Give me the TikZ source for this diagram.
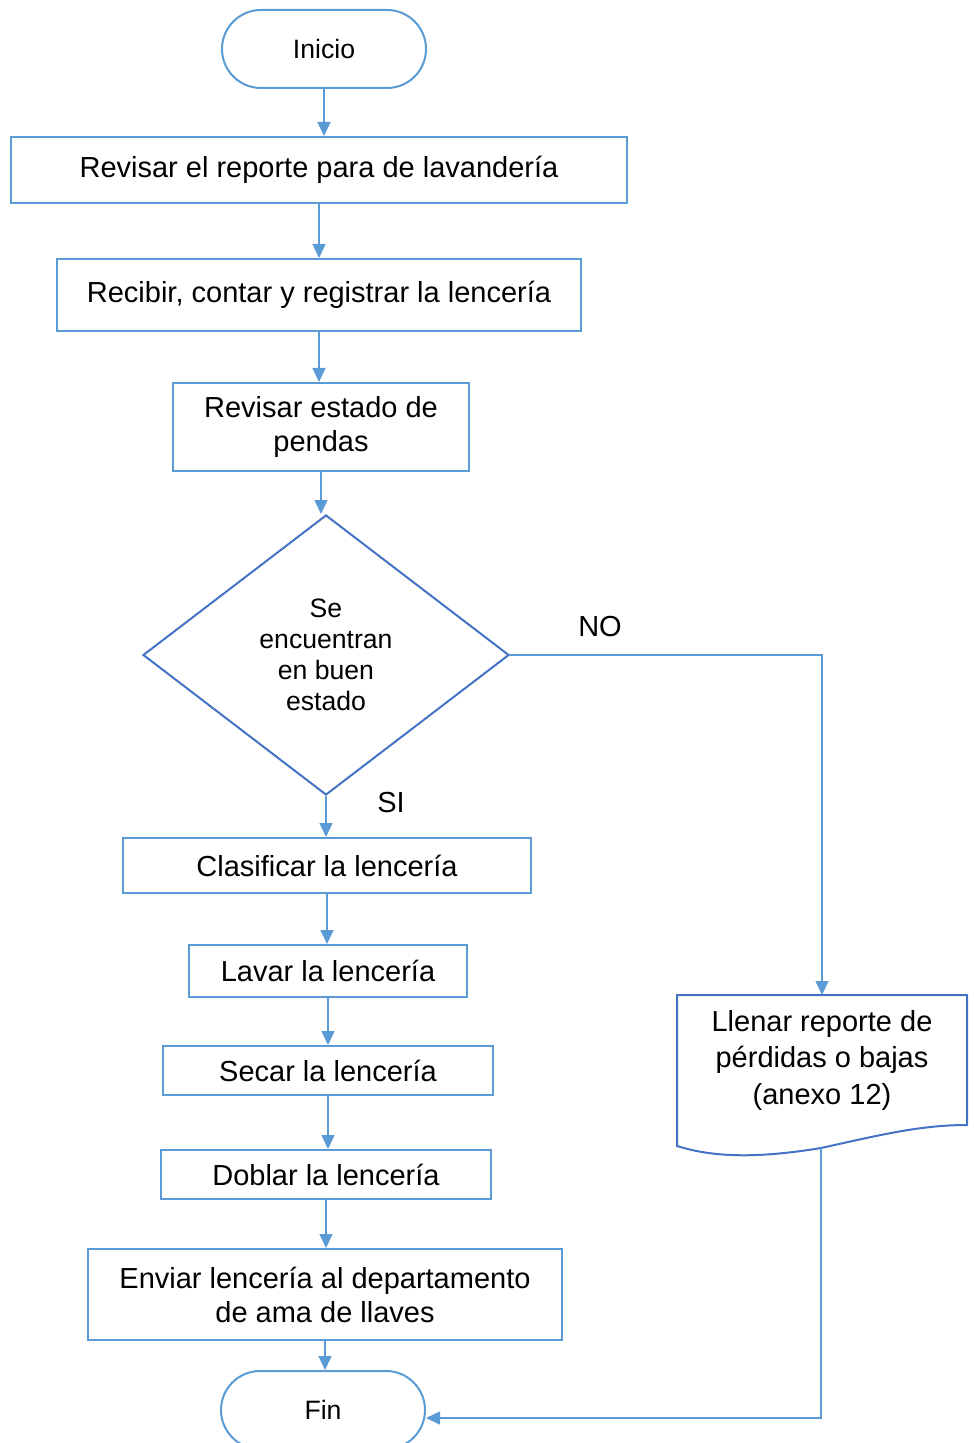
\documentclass[tikz,border=0pt]{standalone}
\usepackage{fontspec}
\setmainfont{Liberation Sans}
\usetikzlibrary{arrows.meta,shapes.geometric,shapes.misc}
\definecolor{azul}{HTML}{5B9BD5}
\definecolor{azulosc}{HTML}{4472C4}

\begin{document}
\begin{tikzpicture}[x=0.5pt, y=-0.5pt,
  texto/.style={font=\fontsize{14.5}{17}\selectfont},
  caja/.style={draw=azul, line width=1pt, align=center, inner sep=0pt, texto},
  terminal/.style={caja, rounded rectangle, minimum width=102pt, minimum height=39pt,
                   font=\fontsize{13.3}{16}\selectfont},
  decision/.style={diamond, draw=azulosc, line width=1pt, align=center, inner sep=0pt,
                   minimum width=183pt, minimum height=140pt, font=\fontsize{13.3}{15.5}\selectfont},
  documento/.style={align=center, inner sep=0pt, minimum width=145pt, minimum height=65pt,
                    anchor=north, font=\fontsize{14.5}{18.2}\selectfont},
  flecha/.style={-{Triangle[length=7pt, width=6.5pt]}, azul, line width=0.75pt},
  linea/.style={flecha, line width=0.6pt}]
  \useasboundingbox (0,0) rectangle (973,1443);
  % columna principal
  \node[terminal] (ini)  at (324,49)     {Inicio};
  \node[caja, minimum width=308pt, minimum height=33pt]   (rev)  at (319,170)    {Revisar el reporte para de lavandería};
  \node[caja, minimum width=262pt, minimum height=36pt]   (rec)  at (319,295)    {Recibir, contar y registrar la lencería};
  \node[caja, minimum width=148pt, minimum height=44pt]   (est)  at (321,427)    {Revisar estado de\\pendas};
  \node[decision] (dec) at (326,655)    {Se\\encuentran\\en buen\\estado};
  \node[caja, minimum width=204pt, minimum height=27.5pt] (clas) at (327,865.5)  {Clasificar la lencería};
  \node[caja, minimum width=139pt, minimum height=26pt]   (lav)  at (328,971)    {Lavar la lencería};
  \node[caja, minimum width=165pt, minimum height=24.5pt] (sec)  at (328,1070.5) {Secar la lencería};
  \node[caja, minimum width=165pt, minimum height=24.5pt] (dob)  at (326,1174.5) {Doblar la lencería};
  \node[caja, minimum width=237pt, minimum height=45.5pt] (env)  at (325,1294.5) {Enviar lencería al departamento\\de ama de llaves};
  \node[terminal] (fin)  at (323,1410)   {Fin};
  % rama del NO
  \node[documento] (rep) at (822,995) {Llenar reporte de\\pérdidas o bajas\\(anexo 12)};
  \draw[azulosc, line width=1pt] (677,995) -- (967,995) -- (967,1125)
    .. controls (920,1125) and (880,1135) .. (821,1148)
    .. controls (760,1158) and (715,1158) .. (677,1146) -- cycle;
  \coordinate (repb) at (821,1148);
  \node[texto] (no) at (600,627) {NO};
  \node[texto] (si) at (391,803) {SI};
  % conectores
  \draw[flecha] (ini.south) -- (ini.south |- rev.north);
  \draw[flecha] (rev.south) -- (rev.south |- rec.north);
  \draw[flecha] (rec.south) -- (rec.south |- est.north);
  \draw[flecha] (est.south) -- (est.south |- dec.north);
  \draw[flecha] (dec.south) -- (dec.south |- clas.north);
  \draw[flecha] (clas.south) -- (clas.south |- lav.north);
  \draw[flecha] (lav.south) -- (lav.south |- sec.north);
  \draw[flecha] (sec.south) -- (sec.south |- dob.north);
  \draw[flecha] (dob.south) -- (dob.south |- env.north);
  \draw[flecha] (env.south) -- (env.south |- fin.north);
  \draw[linea] (dec.east) -| (rep.north);
  \draw[flecha] (repb) |- ([yshift=-4pt]fin.east);
\end{tikzpicture}
\end{document}
